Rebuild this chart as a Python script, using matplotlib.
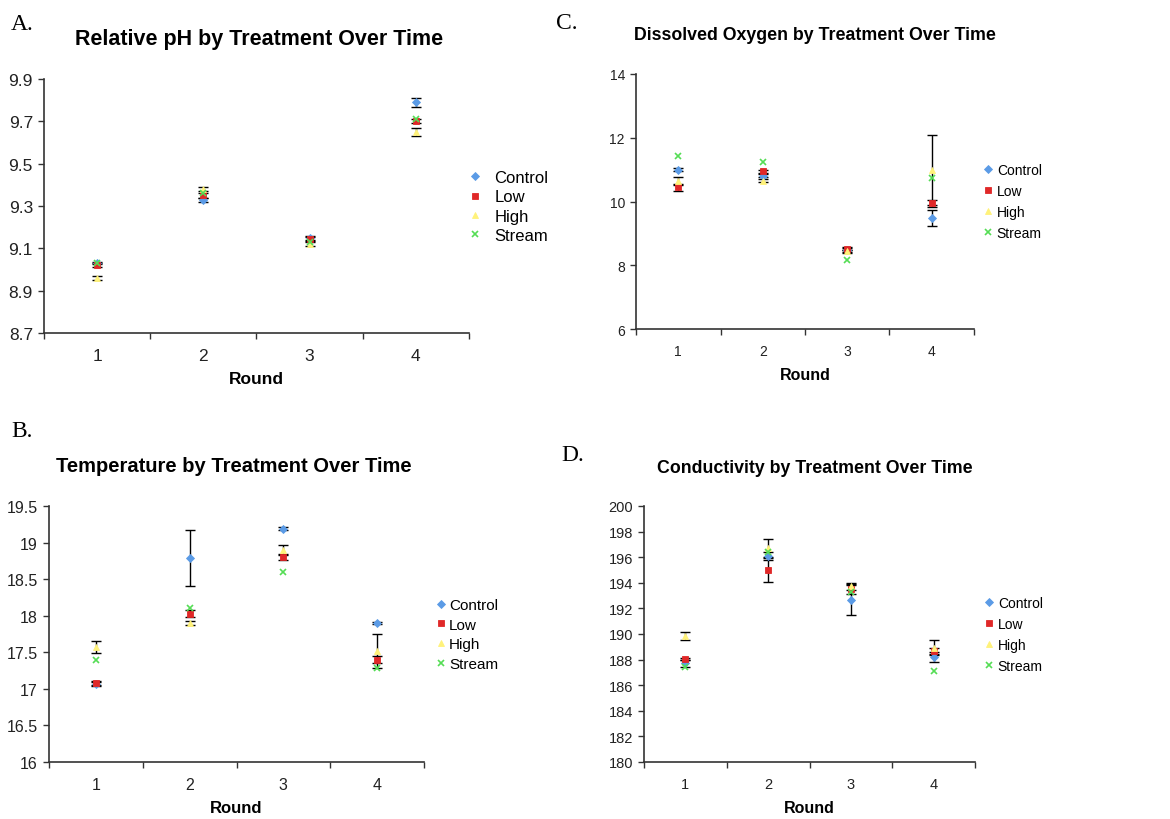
import matplotlib
matplotlib.use("Agg")
import matplotlib.pyplot as plt

# ---------------- data ----------------
rounds = [1, 2, 3, 4]
round_labels = ["1", "2", "3", "4"]
series_names = ["Control", "Low", "High", "Stream"]

# A. Relative pH
ph_control = [9.03, 9.33, 9.15, 9.79]
ph_low = [9.02, 9.35, 9.145, 9.70]
ph_high = [8.96, 9.38, 9.12, 9.65]
ph_stream = [9.03, 9.36, 9.13, 9.71]
ph_control_err = [0.005, 0.01, 0.01, 0.022]
ph_low_err = [0.01, 0.01, 0.01, 0.01]
ph_high_err = [0.01, 0.01, 0.01, 0.02]
ph_ticks = [8.7, 8.9, 9.1, 9.3, 9.5, 9.7, 9.9]

# C. Dissolved oxygen
do_control = [11.0, 10.81, 8.48, 9.47]
do_low = [10.44, 10.95, 8.52, 9.94]
do_high = [10.65, 10.65, 8.44, 11.0]
do_stream = [11.44, 11.24, 8.18, 10.73]
do_control_err = [0.05, 0.05, 0.05, 0.25]
do_low_err = [0.1, 0.05, 0.05, 0.1]
do_high_err = [0.13, 0.05, 0.05, 1.1]
do_ticks = [6, 8, 10, 12, 14]

# B. Temperature
t_control = [17.07, 18.79, 19.19, 17.90]
t_low = [17.08, 18.03, 18.80, 17.40]
t_high = [17.57, 17.90, 18.90, 17.52]
t_stream = [17.40, 18.10, 18.60, 17.29]
t_control_err = [0.03, 0.38, 0.02, 0.02]
t_low_err = [0.03, 0.05, 0.04, 0.05]
t_high_err = [0.08, 0.03, 0.07, 0.23]
t_ticks = [16, 16.5, 17, 17.5, 18, 18.5, 19, 19.5]
t_ticklabels = ["16", "16.5", "17", "17.5", "18", "18.5", "19", "19.5"]

# D. Conductivity
c_control = [187.7, 196.08, 192.66, 188.2]
c_low = [188.05, 194.99, 193.52, 188.67]
c_high = [189.84, 196.74, 193.73, 188.93]
c_stream = [187.4, 196.42, 193.26, 187.1]
c_control_err = [0.3, 0.3, 1.15, 0.4]
c_low_err = [0.1, 0.95, 0.4, 0.2]
c_high_err = [0.3, 0.7, 0.27, 0.6]
c_ticks = [180, 182, 184, 186, 188, 190, 192, 194, 196, 198, 200]

titles = ["Relative pH by Treatment Over Time",
          "Dissolved Oxygen by Treatment Over Time",
          "Temperature by Treatment Over Time",
          "Conductivity by Treatment Over Time"]
panel_letters = ["A.", "C.", "B.", "D."]
xlabel_text = "Round"

# ---------------- style ----------------
W, H = 1170, 820
colors = {"Control": "#5B9BE6", "Low": "#E02828", "High": "#FFF27A", "Stream": "#55DD55"}
markers = {"Control": "D", "Low": "s", "High": "^", "Stream": "x"}
msizes = {"Control": 4, "Low": 4.5, "High": 5, "Stream": 4.5}
SANS = ["Liberation Sans", "DejaVu Sans"]
SERIF = ["Liberation Serif", "DejaVu Serif"]
plt.rcParams["font.family"] = SANS

fig = plt.figure(figsize=(W / 100, H / 100), dpi=100)
fig.patch.set_facecolor("white")


def px_axes(l, t, r, b):
    return fig.add_axes([l / W, 1 - b / H, (r - l) / W, (b - t) / H])


def panel(box, vals, errs, ylim, yticks, yticklabels, title, title_xy, title_fs,
          letter, letter_xy, tick_fs, label_fs, legend_xy, legend_fs, text_pad):
    l, t, r, b = box
    ax = px_axes(l, t, r, b)
    handles = []
    for name, v, e in zip(series_names, vals, errs):
        if e is not None:
            ax.errorbar(rounds, v, yerr=e, fmt="none", ecolor="black",
                        elinewidth=1.0, capsize=3.5, capthick=1.0, zorder=2)
        ln, = ax.plot(rounds, v, linestyle="none", marker=markers[name],
                      markersize=msizes[name], color=colors[name],
                      markerfacecolor=colors[name], markeredgecolor=colors[name],
                      markeredgewidth=1.2 if name == "Stream" else 0.6,
                      zorder=3, label=name)
        handles.append(ln)
    ax.set_xlim(0.5, 4.5)
    ax.set_ylim(*ylim)
    ax.set_yticks(yticks)
    ax.set_yticklabels(yticklabels)
    ax.set_xticks(rounds)
    ax.set_xticklabels(round_labels)
    ax.set_xticks([0.5, 1.5, 2.5, 3.5, 4.5], minor=True)
    ax.tick_params(axis="x", which="major", length=0, pad=11, labelsize=tick_fs,
                   colors="#222222")
    ax.tick_params(axis="x", which="minor", length=4, direction="out",
                   width=1, color="#333333")
    ax.tick_params(axis="y", which="major", length=4, direction="out", width=1,
                   pad=4, labelsize=tick_fs, color="#333333", labelcolor="#222222")
    for s in ["top", "right"]:
        ax.spines[s].set_visible(False)
    for s in ["left", "bottom"]:
        ax.spines[s].set_color("#333333")
        ax.spines[s].set_linewidth(1.2)
    ax.set_xlabel(xlabel_text, fontsize=label_fs, fontweight="bold", va="center")
    ax.xaxis.set_label_coords(0.5, -46 / (b - t))
    fig.text(title_xy[0] / W, 1 - title_xy[1] / H, title, ha="center",
             va="baseline", fontsize=title_fs, fontweight="bold")
    fig.text(letter_xy[0] / W, 1 - letter_xy[1] / H, letter, ha="left",
             va="baseline", fontsize=17, family=SERIF)
    fpx = legend_fs * 100 / 72
    ax.legend(handles=handles, loc="center left",
              bbox_to_anchor=(legend_xy[0] / W, 1 - legend_xy[1] / H),
              bbox_transform=fig.transFigure, frameon=False,
              fontsize=legend_fs, handlelength=0.5, handletextpad=text_pad,
              labelspacing=21 / fpx - 1.0, borderpad=0,
              borderaxespad=0, numpoints=1)
    return ax


# A
panel((44, 80, 469, 334),
      [ph_control, ph_low, ph_high, ph_stream],
      [ph_control_err, ph_low_err, ph_high_err, None],
      (8.7, 9.9), ph_ticks, [f"{v:.1f}" for v in ph_ticks],
      titles[0], (259, 45), 15.5, panel_letters[0], (11, 30),
      12.5, 12.5, (471, 207.5), 12, 0.9)
# C
panel((636, 75, 974, 330),
      [do_control, do_low, do_high, do_stream],
      [do_control_err, do_low_err, do_high_err, None],
      (6, 14), do_ticks, [str(v) for v in do_ticks],
      titles[1], (815, 40), 12.8, panel_letters[1], (556, 29),
      10, 11.5, (985, 202.5), 10, 0.35)
# B
panel((49, 507, 424, 763),
      [t_control, t_low, t_high, t_stream],
      [t_control_err, t_low_err, t_high_err, None],
      (16, 19.5), t_ticks, t_ticklabels,
      titles[2], (234, 472), 14.5, panel_letters[2], (11, 437),
      11.5, 12, (437, 635.5), 11, 0.3)
# D
panel((644, 507, 975, 763),
      [c_control, c_low, c_high, c_stream],
      [c_control_err, c_low_err, c_high_err, None],
      (180, 200), c_ticks, [str(v) for v in c_ticks],
      titles[3], (815, 473), 12.8, panel_letters[3], (561, 461),
      10.5, 11.5, (986, 635.5), 10, 0.35)

fig.savefig("out.png", dpi=100, facecolor="white")
